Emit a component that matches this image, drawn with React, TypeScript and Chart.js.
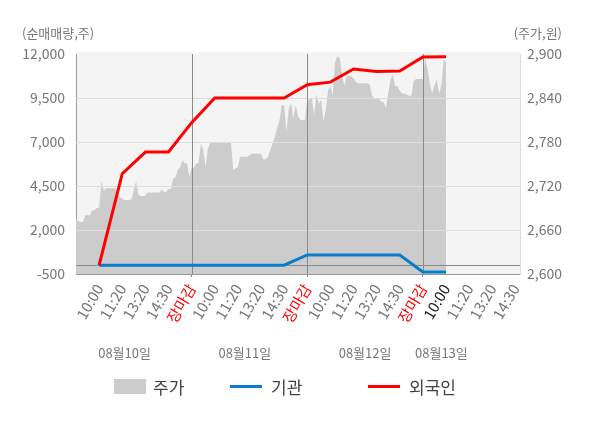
import React, { useEffect, useRef } from "react";
import { Chart, registerables } from "chart.js";

Chart.register(...registerables);

const FONT = "'Noto Sans CJK KR', 'Noto Sans', sans-serif";

// x axis: one unit per labelled tick, day closes at 5, 10, 15
const timeLabels = [
  "10:00", "11:20", "13:20", "14:30", "장마감",
  "10:00", "11:20", "13:20", "14:30", "장마감",
  "10:00", "11:20", "13:20", "14:30", "장마감",
  "10:00", "11:20", "13:20", "14:30",
];
const closeLabel = "장마감";
const currentTick = 15; // 08월13일 10:00
const xMax = 19.2;
const dayBoundaries = [5, 10, 15];
const dayLabels = ["08월10일", "08월11일", "08월12일", "08월13일"];
const dayLabelPos = [2.1, 7.3, 12.5, 15.8];

const leftTicks = [-500, 2000, 4500, 7000, 9500, 12000];
const rightTicks = [2600, 2660, 2720, 2780, 2840, 2900];

// 주가, sampled every 0.1 tick unit
const priceStep = 0.1;
const price = [
  2676, 2672, 2671, 2671, 2680, 2680, 2680, 2687, 2687, 2690,
  2690, 2726, 2714, 2717, 2717, 2717, 2717, 2717, 2710, 2705,
  2703, 2701, 2701, 2701, 2702, 2715, 2726, 2708, 2706, 2706,
  2707, 2711, 2711, 2711, 2711, 2711, 2711, 2715, 2712, 2712,
  2716, 2716, 2730, 2732, 2742, 2745, 2755, 2751, 2751, 2733,
  2745, 2745, 2751, 2751, 2778, 2769, 2746, 2770, 2779, 2779,
  2779, 2779, 2779, 2779, 2779, 2779, 2779, 2779, 2742, 2744,
  2746, 2760, 2760, 2760, 2760, 2762, 2764, 2764, 2764, 2764,
  2764, 2756, 2756, 2760, 2769, 2778, 2787, 2799, 2810, 2830,
  2830, 2794, 2825, 2833, 2812, 2830, 2815, 2810, 2810, 2810,
  2838, 2838, 2840, 2817, 2845, 2832, 2838, 2808, 2824, 2850,
  2856, 2843, 2888, 2897, 2895, 2874, 2856, 2870, 2870, 2870,
  2867, 2862, 2860, 2860, 2860, 2860, 2860, 2858, 2843, 2839,
  2839, 2839, 2835, 2835, 2826, 2846, 2865, 2872, 2856, 2856,
  2850, 2846, 2846, 2845, 2843, 2843, 2863, 2866, 2866, 2866,
  2866, 2897, 2880, 2860, 2846, 2857, 2865, 2846, 2857, 2892, 2890,
];

// 누적 순매매량, one value per tick from 1 to 16
const institution = [0, 0, 0, 0, 0, 0, 0, 0, 0, 580, 580, 580, 580, 580, -380, -380];
const foreign = [0, 5200, 6430, 6430, 8100, 9500, 9500, 9500, 9500, 10250, 10400, 11150, 11000, 11030, 11830, 11850];

const PRICE_COLOR = "#cccccc";
const INST_COLOR = "#0a7ccc";
const FOREIGN_COLOR = "#ff0000";

const legendItems = [
  { label: "주가", color: PRICE_COLOR, kind: "box", left: 114 },
  { label: "기관", color: INST_COLOR, kind: "line", left: 230 },
  { label: "외국인", color: FOREIGN_COLOR, kind: "line", left: 368 },
];

const fmt = (v: number) => v.toLocaleString("en-US");

const decorPlugin = {
  id: "decor",
  beforeDraw(chart: any) {
    const { ctx, chartArea: a } = chart;
    ctx.save();
    ctx.fillStyle = "#f4f4f4";
    ctx.fillRect(a.left, a.top - 2, a.right - a.left, a.bottom - a.top + 2);
    ctx.restore();
  },
  afterDatasetDraw(chart: any, args: any) {
    if (args.index !== 0) return;
    const { ctx, chartArea: a, scales } = chart;
    ctx.save();
    ctx.lineWidth = 1;
    ctx.strokeStyle = "#dddddd";
    leftTicks.slice(1, -1).forEach((v) => {
      const y = Math.round(scales.y.getPixelForValue(v)) + 0.5;
      ctx.beginPath();
      ctx.moveTo(a.left, y);
      ctx.lineTo(a.right, y);
      ctx.stroke();
    });
    ctx.strokeStyle = "#8a8a8a";
    const y0 = Math.round(scales.y.getPixelForValue(0)) + 0.5;
    ctx.beginPath();
    ctx.moveTo(a.left, y0);
    ctx.lineTo(a.right, y0);
    ctx.stroke();
    dayBoundaries.forEach((v) => {
      const x = Math.round(scales.x.getPixelForValue(v)) + 0.5;
      ctx.beginPath();
      ctx.moveTo(x, a.top);
      ctx.lineTo(x, a.bottom);
      ctx.stroke();
    });
    ctx.restore();
  },
  afterDraw(chart: any) {
    const { ctx, scales } = chart;
    ctx.save();
    ctx.fillStyle = "#777777";
    ctx.font = `13px ${FONT}`;
    ctx.textBaseline = "middle";
    ctx.textAlign = "left";
    ctx.fillText("(순매매량,주)", 22, 33);
    ctx.textAlign = "right";
    ctx.fillText("(주가,원)", 562, 33);
    ctx.textAlign = "center";
    dayLabels.forEach((d, i) => {
      ctx.fillText(d, scales.x.getPixelForValue(dayLabelPos[i]), 353);
    });
    ctx.restore();
  },
};

const App = () => {
  const chartRef = useRef<HTMLCanvasElement>(null);
  const chartInstance = useRef<Chart | null>(null);

  useEffect(() => {
    if (!chartRef.current) return;
    chartInstance.current = new Chart(chartRef.current, {
      type: "line",
      data: {
        datasets: [
          {
            label: "주가",
            data: price.map((v, i) => ({ x: i * priceStep, y: v })),
            yAxisID: "y1",
            order: 3,
            borderWidth: 0,
            backgroundColor: PRICE_COLOR,
            fill: "start",
            pointRadius: 0,
            tension: 0,
          },
          {
            label: "기관",
            data: institution.map((v, i) => ({ x: i + 1, y: v })),
            yAxisID: "y",
            order: 2,
            borderColor: INST_COLOR,
            borderWidth: 3,
            pointRadius: 0,
            fill: false,
          },
          {
            label: "외국인",
            data: foreign.map((v, i) => ({ x: i + 1, y: v })),
            yAxisID: "y",
            order: 1,
            borderColor: FOREIGN_COLOR,
            borderWidth: 3,
            pointRadius: 0,
            fill: false,
          },
        ],
      },
      options: {
        responsive: true,
        maintainAspectRatio: false,
        animation: false,
        layout: { padding: { top: 54, left: 0, right: 0, bottom: 0 } },
        plugins: {
          legend: { display: false },
          tooltip: { enabled: false },
        },
        scales: {
          x: {
            type: "linear",
            min: 0,
            max: xMax,
            afterBuildTicks: (axis: any) => {
              axis.ticks = timeLabels.map((_, i) => ({ value: i + 1 }));
            },
            afterFit: (axis: any) => {
              axis.height = 154;
            },
            ticks: {
              autoSkip: false,
              minRotation: 60,
              maxRotation: 60,
              padding: 4,
              font: { family: FONT, size: 15 },
              color: (ctx: any) =>
                timeLabels[ctx.index] === closeLabel
                  ? "#ff0000"
                  : ctx.index === currentTick
                  ? "#222222"
                  : "#777777",
              callback: (_v: any, i: number) => timeLabels[i],
            },
            grid: {
              drawOnChartArea: false,
              tickLength: 3,
              color: (ctx: any) =>
                ctx.tick && dayBoundaries.includes(ctx.tick.value) ? "#8a8a8a" : "rgba(0,0,0,0)",
            },
            border: { color: "#999999" },
          },
          y: {
            position: "left",
            min: -500,
            max: 12000,
            afterBuildTicks: (axis: any) => {
              axis.ticks = leftTicks.map((v) => ({ value: v }));
            },
            afterFit: (axis: any) => {
              axis.width = 76;
            },
            ticks: {
              padding: 11,
              font: { family: FONT, size: 14 },
              color: "#777777",
              callback: (v: any) => fmt(Number(v)),
            },
            grid: { display: false, drawTicks: false },
            border: { color: "#999999" },
          },
          y1: {
            position: "right",
            min: 2600,
            max: 2900,
            afterBuildTicks: (axis: any) => {
              axis.ticks = rightTicks.map((v) => ({ value: v }));
            },
            afterFit: (axis: any) => {
              axis.width = 80;
            },
            ticks: {
              padding: 7,
              font: { family: FONT, size: 14 },
              color: "#777777",
              callback: (v: any) => fmt(Number(v)),
            },
            grid: { display: false, drawTicks: false },
            border: { color: "#dddddd" },
          },
        },
      },
      plugins: [decorPlugin],
    });
    return () => {
      chartInstance.current?.destroy();
    };
  }, []);

  return (
    <div style={{ position: "absolute", left: 0, top: 0, width: 600, height: 428, background: "#fff" }}>
      <canvas ref={chartRef} />
      {legendItems.map((item) => (
        <div
          key={item.label}
          style={{
            position: "absolute",
            left: item.left,
            top: 376,
            height: 20,
            display: "flex",
            alignItems: "center",
            fontFamily: FONT,
            fontSize: 17,
            color: "#444",
            whiteSpace: "nowrap",
          }}
        >
          <span
            style={{
              display: "inline-block",
              width: 32,
              height: item.kind === "box" ? 15 : 3,
              background: item.color,
              marginRight: item.kind === "box" ? 7 : 9,
            }}
          />
          {item.label}
        </div>
      ))}
    </div>
  );
};

export default App;
